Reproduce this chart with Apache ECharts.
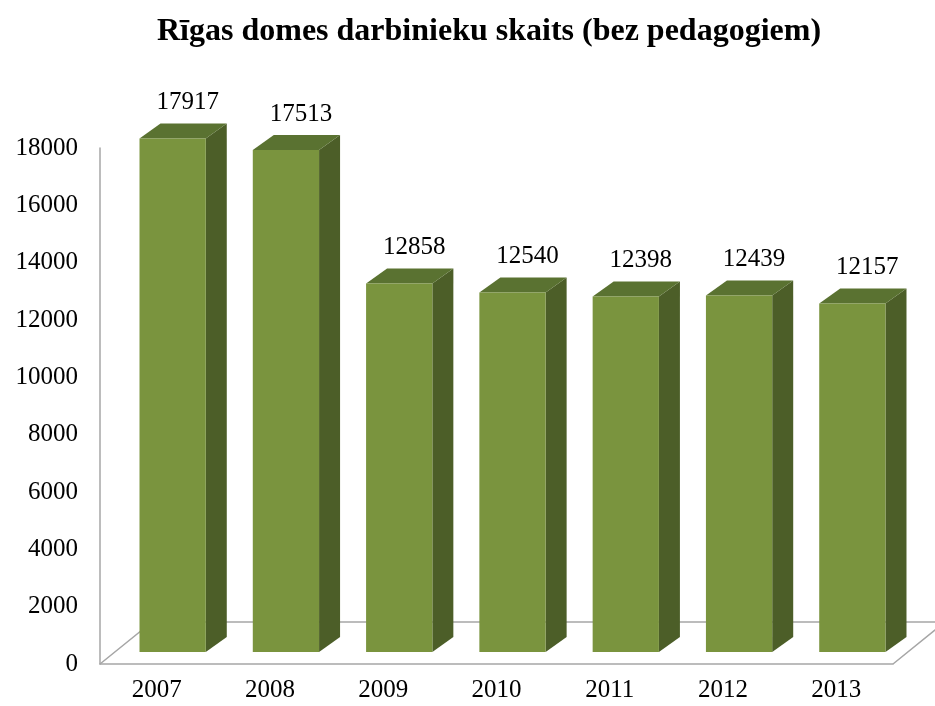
<!DOCTYPE html>
<html>
<head>
<meta charset="utf-8">
<script src="https://cdn.jsdelivr.net/npm/echarts@6/dist/echarts.min.js"></script>
<style>
  html, body { margin: 0; padding: 0; background: #fff; }
  #chart { width: 935px; height: 706px; }
</style>
</head>
<body>
<div id="chart"></div>
<script>
// Darbinieku skaits pa gadiem
const years = ['2007', '2008', '2009', '2010', '2011', '2012', '2013'];
const staff = [17917, 17513, 12858, 12540, 12398, 12439, 12157];

const FONT = '"Liberation Serif", "Times New Roman", serif';

// 3D look: floor depth and bar placement inside it
const floorDx = 52, floorDy = -42;
const barOx = 16, barOy = -12;
const barDx = 21, barDy = -15;

const chart = echarts.init(document.getElementById('chart'));

const renderFloor = (params, api) => {
  const cs = params.coordSys;
  const x0 = cs.x, x1 = cs.x + cs.width, y = cs.y + cs.height;
  return {
    type: 'polyline',
    shape: {
      points: [
        [x0, y], [x0 + floorDx, y + floorDy],
        [x1 + floorDx, y + floorDy], [x1, y]
      ]
    },
    style: { stroke: '#a6a6a6', lineWidth: 1.5, fill: null },
    silent: true
  };
};

const renderBar = (params, api) => {
  const idx = api.value(0);
  const val = api.value(1);
  const base = api.coord([idx, 0]);
  const top = api.coord([idx, val]);
  const w = api.size([1, 0])[0] * 0.585;
  const cx = base[0] + barOx;
  const xa = cx - w / 2, xb = cx + w / 2;
  const yt = top[1] + barOy, yb = base[1] + barOy;
  return {
    type: 'group',
    children: [
      {
        type: 'polygon',
        shape: { points: [[xb, yt], [xb + barDx, yt + barDy], [xb + barDx, yb + barDy], [xb, yb]] },
        style: { fill: '#4c5e28' }
      },
      {
        type: 'polygon',
        shape: { points: [[xa, yt], [xa + barDx, yt + barDy], [xb + barDx, yt + barDy], [xb, yt]] },
        style: { fill: '#5a7231' }
      },
      {
        type: 'rect',
        shape: { x: xa, y: yt, width: w, height: yb - yt },
        style: { fill: '#7a943e' }
      },
      {
        type: 'text',
        style: {
          x: cx + 15, y: yt + barDy - 21,
          text: String(val),
          fill: '#000', font: '25px ' + FONT,
          align: 'center', verticalAlign: 'middle'
        }
      }
    ]
  };
};

const option = {
  backgroundColor: '#fff',
  animation: false,
  title: {
    text: 'Rīgas domes darbinieku skaits (bez pedagogiem)',
    left: 152,
    top: 11,
    textStyle: { fontFamily: FONT, fontSize: 32, fontWeight: 'bold', color: '#000' }
  },
  grid: { left: 100, right: 42, top: 148, bottom: 42 },
  xAxis: {
    type: 'category',
    data: years,
    axisLine: { lineStyle: { color: '#a6a6a6', width: 1.5 } },
    axisTick: { show: false },
    axisLabel: { color: '#000', fontFamily: FONT, fontSize: 25, margin: 14 }
  },
  yAxis: {
    type: 'value',
    min: 0,
    max: 18000,
    interval: 2000,
    axisLine: { show: true, lineStyle: { color: '#a6a6a6', width: 1.5 } },
    axisTick: { show: false },
    splitLine: { show: false },
    axisLabel: {
      color: '#000', fontFamily: FONT, fontSize: 25, margin: 22,
      formatter: (v) => String(v)
    }
  },
  series: [
    {
      type: 'custom',
      renderItem: renderFloor,
      data: [[0, 0]],
      z: 1,
      silent: true
    },
    {
      type: 'custom',
      renderItem: renderBar,
      data: years.map((y, i) => [i, staff[i]]),
      encode: { x: 0, y: 1 },
      z: 2
    }
  ]
};

chart.setOption(option);
</script>
</body>
</html>
